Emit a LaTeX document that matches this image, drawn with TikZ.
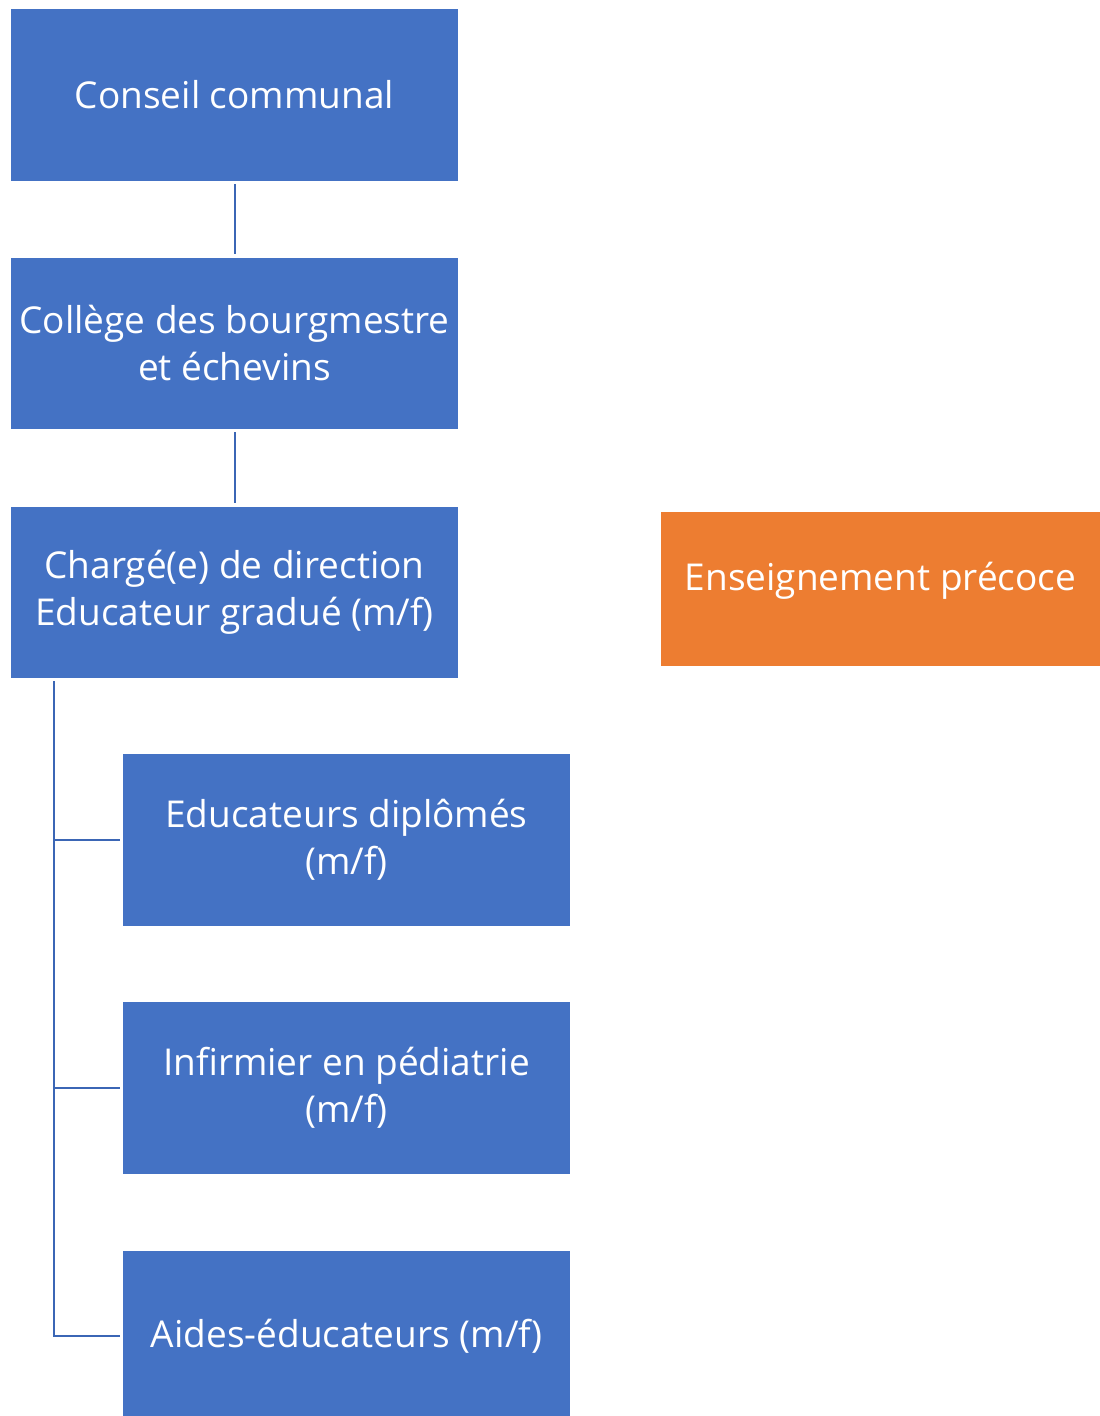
\documentclass[tikz,border=0pt]{standalone}
\usepackage{fontspec}
\setmainfont{Open Sans}
\definecolor{boxblue}{HTML}{4472C4}
\definecolor{boxorange}{HTML}{ED7D31}
\definecolor{linkblue}{HTML}{3B66B5}
\begin{document}
\begin{tikzpicture}[x=1pt,y=-1pt,
  orgbox/.style={fill=boxblue,draw=none,minimum width=447pt,minimum height=172pt,
    text=white,align=center,inner sep=0pt,font=\fontsize{37}{47}\selectfont},
  link/.style={draw=linkblue,line width=2pt}]
\useasboundingbox (0,0) rectangle (1100,1416);
\fill[white] (0,0) rectangle (1100,1416);
\node[orgbox] (cc) at (234.5,95) {Conseil communal};
\node[orgbox,minimum height=171pt] (col) at (234.5,343.5) {Collège des bourgmestre\\et échevins};
\node[orgbox,minimum height=171pt] (dir) at (234.5,592.5) {Chargé(e) de direction\\Educateur gradué (m/f)};
\node[orgbox,fill=boxorange,minimum width=439pt,minimum height=154pt] (ens) at (880.5,589) {\raisebox{8pt}[\height][\depth]{Enseignement précoce}};
\node[orgbox] (edu) at (346.5,840) {Educateurs diplômés\\(m/f)};
\node[orgbox] (inf) at (346.5,1088) {Infirmier en pédiatrie\\(m/f)};
\node[orgbox,minimum height=170pt] (aid) at (346.5,1336) {Aides-éducateurs (m/f)};
\coordinate (top) at (54,681);
\draw[link] ([yshift=-3pt]cc.south) -- ([yshift=4pt]col.north);
\draw[link] ([yshift=-3pt]col.south) -- ([yshift=4pt]dir.north);
\draw[link] (top) |- ([xshift=-3pt]edu.west);
\draw[link] (top) |- ([xshift=-3pt]inf.west);
\draw[link] (top) |- ([xshift=-3pt]aid.west);
\end{tikzpicture}
\end{document}
